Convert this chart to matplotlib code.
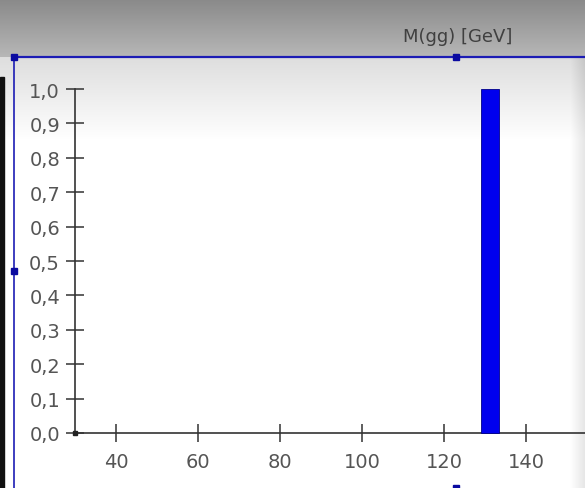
import numpy as np
import matplotlib.pyplot as plt
from matplotlib.patches import Rectangle

# Histogram data: M(gg) in GeV
bin_centers = [131.25]
counts = [1.0]
bin_width = 4.3

x_ticks = [40, 60, 80, 100, 120, 140]
y_ticks = [0.0, 0.1, 0.2, 0.3, 0.4, 0.5, 0.6, 0.7, 0.8, 0.9, 1.0]
y_labels = [f'{v:.1f}'.replace('.', ',') for v in y_ticks]

W, H = 585, 489
fig = plt.figure(figsize=(W / 100, H / 100), dpi=100)

# Background panel (pixel coordinates)
bg = fig.add_axes([0, 0, 1, 1])
bg.set_xlim(0, W)
bg.set_ylim(H, 0)
bg.axis('off')

img = np.ones((H, W, 3))
rows = np.arange(H)
# gray header gradient
top = rows < 58
img[top] = (0.54 + 0.18 * rows[top] / 58)[:, None, None] * np.ones((1, W, 3))
# light fade below header
fade = (rows >= 58) & (rows < 140)
img[fade] = (0.87 + 0.13 * (rows[fade] - 58) / 82)[:, None, None] * np.ones((1, W, 3))
# slight shade at right edge
cols = np.arange(W)
edge = np.clip((cols - 570) / 15, 0, 1) * 0.1
img[58:] = img[58:] - edge[None, :, None]
bg.imshow(img, extent=[0, W, H, 0], aspect='auto', zorder=0)

# dark strip at left border
bg.add_patch(Rectangle((0, 78), 3.5, H - 78, color='#111111', zorder=1))

# blue selection frame with handles
blue = '#1c1cb4'
bg.plot([14, W], [58, 58], color=blue, lw=1.6, zorder=2)
bg.plot([14, 14], [58, H], color=blue, lw=1.2, zorder=2)
for hx, hy in [(14, 58), (456, 58), (14, 272), (456, H)]:
    bg.add_patch(Rectangle((hx - 3, hy - 3), 6, 6, color='#0a0aa0', zorder=3))

bg.text(458, 37, 'M(gg) [GeV]', fontsize=13, color='#404040',
        ha='center', va='center', zorder=3)

# Main histogram axes
ax = fig.add_axes([75 / W, 55 / H, 510 / W, 344 / H])
ax.patch.set_alpha(0)
ax.bar(bin_centers, counts, width=bin_width, color='#0000ee',
       edgecolor='#000088', lw=0.6, clip_on=False, zorder=3)

ax.set_xlim(30, 30 + 510 / 4.1)
ax.set_ylim(0, 1.0)
ax.set_xticks(x_ticks)
ax.set_yticks(y_ticks)
ax.set_yticklabels(y_labels)

for s in ['top', 'right']:
    ax.spines[s].set_visible(False)
for s in ['left', 'bottom']:
    ax.spines[s].set_color('#333333')
    ax.spines[s].set_linewidth(1.2)

ax.tick_params(axis='both', direction='inout', length=13.5, width=1.1,
               color='#333333', labelcolor='#555555', labelsize=14, pad=4)
ax.tick_params(axis='x', pad=7)
ax.plot(30, 0, 's', ms=3, color='#222222', clip_on=False, zorder=4)

fig.savefig('out.png', dpi=100)
